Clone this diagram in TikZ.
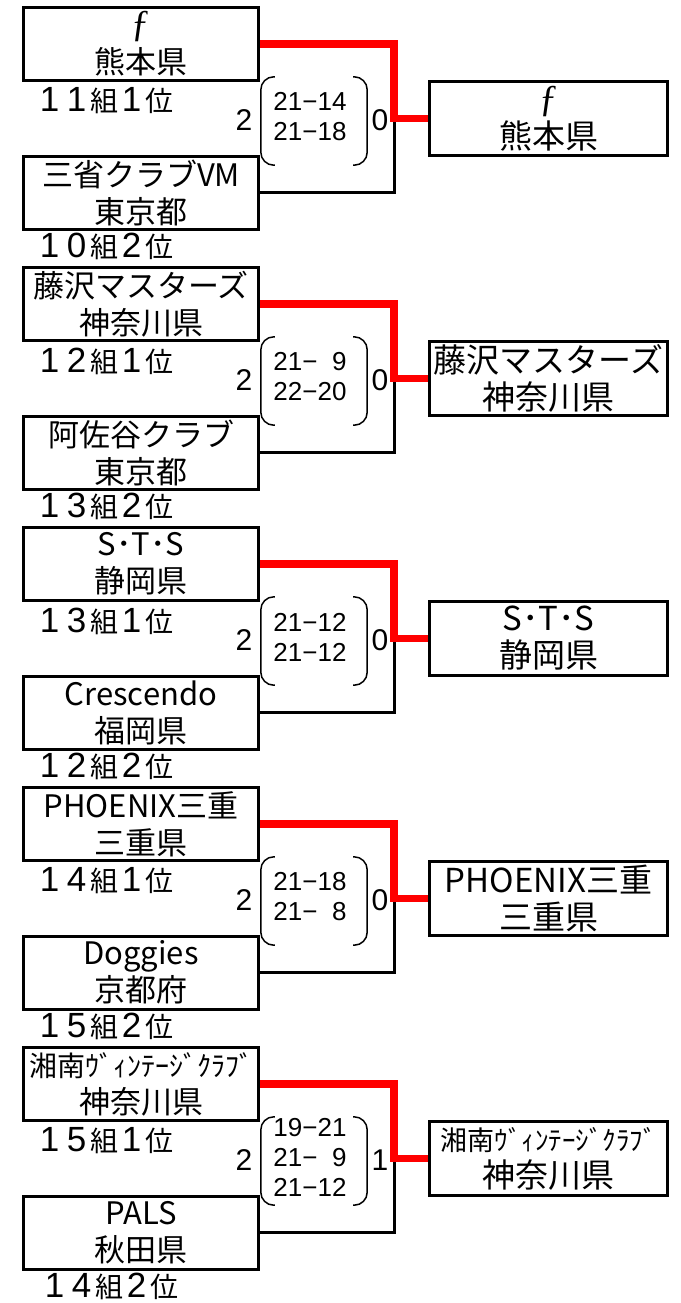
\documentclass[tikz,border=0pt]{standalone}
\usepackage{fontspec}
\setmainfont{Noto Sans CJK JP}
\newfontfamily\scfont{Liberation Sans}
\newfontfamily\hkfont{Liberation Serif}
\newcommand{\rkd}[1]{\makebox[27pt]{\scfont\fontsize{35}{35}\selectfont#1}}
\tikzset{
  tmteam/.style={draw=black, line width=3pt, minimum width=235pt, minimum height=73pt, inner sep=0pt, align=center, font=\fontsize{31}{37}\selectfont},
  tmwin/.style={tmteam, minimum width=238pt, minimum height=74pt, font=\fontsize{33}{37}\selectfont},
  tmrank/.style={anchor=west, inner sep=0pt, font=\fontsize{28}{28}\selectfont},
  tmgames/.style={inner sep=0pt, font=\scfont\fontsize{30}{30}\selectfont},
  tmscore/.style={inner sep=0pt, align=center, font=\scfont\fontsize{26}{30}\selectfont},
  tmbrk/.style={minimum width=106pt, minimum height=88pt, inner sep=0pt},
  tmparen/.style={line width=1.5pt, draw=black, rounded corners=13pt},
  tmline/.style={line width=3pt, draw=black},
  tmred/.style={line width=7.5pt, draw=red, line join=miter},
}
\begin{document}
\begin{tikzpicture}[x=1pt,y=-1pt]
\useasboundingbox (0,0) rectangle (680,1303);
\node[tmteam] (t1) at (141,44) {{\hkfont\fontsize{38}{37}\selectfont ƒ}\\熊本県};
\node[tmteam] (b1) at (141,192.5) {三省クラブVM\\東京都};
\node[tmwin] (w1) at (548.5,118.5) {{\hkfont\fontsize{38}{37}\selectfont ƒ}\\熊本県};
\node[tmrank] (r1a) at (36,101) {\rkd1\rkd1組\rkd1位};
\node[tmrank] (r1b) at (36,246) {\rkd1\rkd0組\rkd2位};
\node[tmbrk] (p1) at (314,121) {};
\node[tmscore] (g1) at (310,117) {21−14\\21−18};
\node[tmgames] (n1a) at (244,120) {2};
\node[tmgames] (n1b) at (380,120) {0};
\coordinate (j1) at ([xshift=-34pt]w1.west);
\draw[tmparen] ([xshift=14pt]p1.north west) -- (p1.north west) -- (p1.south west) -- ([xshift=14pt]p1.south west);
\draw[tmparen] ([xshift=-14pt]p1.north east) -- (p1.north east) -- (p1.south east) -- ([xshift=-14pt]p1.south east);
\draw[tmline] (b1.east) -| (j1);
\draw[tmred] (t1.east) -| (j1) -- (w1.west);

\node[tmteam] (t2) at (141,304) {藤沢マスターズ\\神奈川県};
\node[tmteam] (b2) at (141,452.5) {阿佐谷クラブ\\東京都};
\node[tmwin] (w2) at (548.5,378.5) {藤沢マスターズ\\神奈川県};
\node[tmrank] (r2a) at (36,361) {\rkd1\rkd2組\rkd1位};
\node[tmrank] (r2b) at (36,506) {\rkd1\rkd3組\rkd2位};
\node[tmbrk] (p2) at (314,381) {};
\node[tmscore] (g2) at (310,377) {21−\hphantom{0}9\\22−20};
\node[tmgames] (n2a) at (244,380) {2};
\node[tmgames] (n2b) at (380,380) {0};
\coordinate (j2) at ([xshift=-34pt]w2.west);
\draw[tmparen] ([xshift=14pt]p2.north west) -- (p2.north west) -- (p2.south west) -- ([xshift=14pt]p2.south west);
\draw[tmparen] ([xshift=-14pt]p2.north east) -- (p2.north east) -- (p2.south east) -- ([xshift=-14pt]p2.south east);
\draw[tmline] (b2.east) -| (j2);
\draw[tmred] (t2.east) -| (j2) -- (w2.west);

\node[tmteam] (t3) at (141,564) {S･T･S\\静岡県};
\node[tmteam] (b3) at (141,712.5) {Crescendo\\福岡県};
\node[tmwin] (w3) at (548.5,638.5) {S･T･S\\静岡県};
\node[tmrank] (r3a) at (36,621) {\rkd1\rkd3組\rkd1位};
\node[tmrank] (r3b) at (36,766) {\rkd1\rkd2組\rkd2位};
\node[tmbrk] (p3) at (314,641) {};
\node[tmscore] (g3) at (310,637) {21−12\\21−12};
\node[tmgames] (n3a) at (244,640) {2};
\node[tmgames] (n3b) at (380,640) {0};
\coordinate (j3) at ([xshift=-34pt]w3.west);
\draw[tmparen] ([xshift=14pt]p3.north west) -- (p3.north west) -- (p3.south west) -- ([xshift=14pt]p3.south west);
\draw[tmparen] ([xshift=-14pt]p3.north east) -- (p3.north east) -- (p3.south east) -- ([xshift=-14pt]p3.south east);
\draw[tmline] (b3.east) -| (j3);
\draw[tmred] (t3.east) -| (j3) -- (w3.west);

\node[tmteam] (t4) at (141,824) {PHOENIX三重\\三重県};
\node[tmteam] (b4) at (141,972.5) {Doggies\\京都府};
\node[tmwin] (w4) at (548.5,898.5) {PHOENIX三重\\三重県};
\node[tmrank] (r4a) at (36,881) {\rkd1\rkd4組\rkd1位};
\node[tmrank] (r4b) at (36,1026) {\rkd1\rkd5組\rkd2位};
\node[tmbrk] (p4) at (314,901) {};
\node[tmscore] (g4) at (310,897) {21−18\\21−\hphantom{0}8};
\node[tmgames] (n4a) at (244,900) {2};
\node[tmgames] (n4b) at (380,900) {0};
\coordinate (j4) at ([xshift=-34pt]w4.west);
\draw[tmparen] ([xshift=14pt]p4.north west) -- (p4.north west) -- (p4.south west) -- ([xshift=14pt]p4.south west);
\draw[tmparen] ([xshift=-14pt]p4.north east) -- (p4.north east) -- (p4.south east) -- ([xshift=-14pt]p4.south east);
\draw[tmline] (b4.east) -| (j4);
\draw[tmred] (t4.east) -| (j4) -- (w4.west);

\node[tmteam] (t5) at (141,1084) {{\fontsize{28}{37}\selectfont 湘南ｳﾞｨﾝﾃｰｼﾞｸﾗﾌﾞ}\\神奈川県};
\node[tmteam] (b5) at (141,1232.5) {PALS\\秋田県};
\node[tmwin] (w5) at (548.5,1158.5) {{\fontsize{27}{37}\selectfont 湘南ｳﾞｨﾝﾃｰｼﾞｸﾗﾌﾞ}\\神奈川県};
\node[tmrank] (r5a) at (36,1141) {\rkd1\rkd5組\rkd1位};
\node[tmrank] (r5b) at (41,1286) {\rkd1\rkd4組\rkd2位};
\node[tmbrk] (p5) at (314,1161) {};
\node[tmscore] (g5) at (310,1157) {19−21\\21−\hphantom{0}9\\21−12};
\node[tmgames] (n5a) at (244,1160) {2};
\node[tmgames] (n5b) at (380,1160) {1};
\coordinate (j5) at ([xshift=-34pt]w5.west);
\draw[tmparen] ([xshift=14pt]p5.north west) -- (p5.north west) -- (p5.south west) -- ([xshift=14pt]p5.south west);
\draw[tmparen] ([xshift=-14pt]p5.north east) -- (p5.north east) -- (p5.south east) -- ([xshift=-14pt]p5.south east);
\draw[tmline] (b5.east) -| (j5);
\draw[tmred] (t5.east) -| (j5) -- (w5.west);
\end{tikzpicture}
\end{document}
